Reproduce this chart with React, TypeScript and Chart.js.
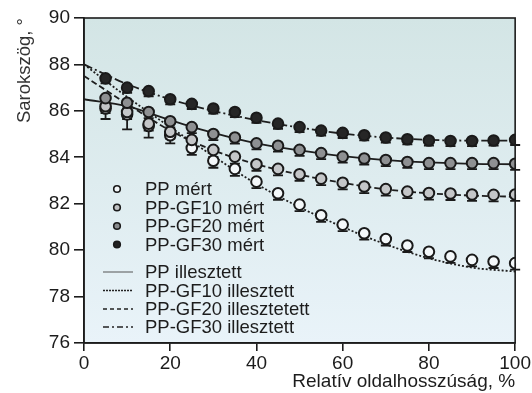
import { useEffect, useRef } from 'react';
import { Chart, registerables } from 'chart.js';

Chart.register(...registerables);

// Relative side length positions of the measurements (%)
const xMeasured = [5, 10, 15, 20, 25, 30, 35, 40, 45, 50, 55, 60, 65, 70, 75, 80, 85, 90, 95, 100];

// Measured corner angle (degrees)
const ppMeasured = [86.1, 85.85, 85.35, 84.95, 84.4, 83.85, 83.5, 82.95, 82.45, 81.96, 81.5, 81.1, 80.73, 80.48, 80.2, 79.93, 79.73, 79.58, 79.51, 79.44];
const gf10Measured = [86.2, 85.95, 85.45, 85.1, 84.75, 84.32, 84.03, 83.7, 83.5, 83.27, 83.08, 82.9, 82.74, 82.63, 82.52, 82.46, 82.44, 82.4, 82.38, 82.4];
const gf20Measured = [86.55, 86.35, 85.95, 85.55, 85.3, 85.0, 84.85, 84.6, 84.5, 84.32, 84.18, 84.03, 83.95, 83.88, 83.8, 83.75, 83.75, 83.75, 83.75, 83.72];
const gf30Measured = [87.4, 87.0, 86.85, 86.5, 86.3, 86.1, 85.95, 85.7, 85.45, 85.3, 85.15, 85.05, 84.95, 84.85, 84.78, 84.72, 84.7, 84.7, 84.72, 84.75];

// Lower deviation of the measurements (degrees)
const ppErrLow = [0.45, 0.65, 0.5, 0.35, 0.3, 0.3, 0.3, 0.28, 0.28, 0.28, 0.28, 0.28, 0.28, 0.28, 0.28, 0.28, 0.28, 0.28, 0.28, 0.28];
const gf10ErrLow = [0.3, 0.3, 0.3, 0.3, 0.3, 0.3, 0.3, 0.28, 0.28, 0.28, 0.28, 0.28, 0.28, 0.28, 0.28, 0.28, 0.28, 0.28, 0.28, 0.28];
const gf20ErrLow = [0.26, 0.26, 0.26, 0.26, 0.26, 0.26, 0.26, 0.26, 0.26, 0.26, 0.26, 0.26, 0.26, 0.26, 0.26, 0.26, 0.26, 0.26, 0.26, 0.26];
const gf30ErrLow = [0.22, 0.22, 0.22, 0.22, 0.22, 0.22, 0.22, 0.22, 0.22, 0.22, 0.22, 0.22, 0.22, 0.22, 0.22, 0.22, 0.22, 0.22, 0.22, 0.22];

// Fitted curves
const xFit = [0, 10, 20, 30, 40, 50, 60, 70, 80, 90, 100];
const ppFit = [88.0, 86.6, 85.3, 84.05, 82.85, 81.85, 81.0, 80.25, 79.65, 79.25, 79.08];
const gf10Fit = [87.5, 86.3, 85.15, 84.3, 83.7, 83.25, 82.9, 82.62, 82.45, 82.35, 82.3];
const gf20Fit = [86.5, 86.2, 85.6, 85.05, 84.6, 84.3, 84.05, 83.88, 83.78, 83.72, 83.7];
const gf30Fit = [88.0, 87.15, 86.5, 86.0, 85.6, 85.28, 85.02, 84.85, 84.75, 84.72, 84.72];

// Axis settings
const yMin = 76;
const yMax = 90;
const yStep = 2;
const xMin = 0;
const xMax = 100;
const xStep = 20;

const measuredLabels = ['PP mért', 'PP-GF10 mért', 'PP-GF20 mért', 'PP-GF30 mért'];
const fitLabels = ['PP illesztett', 'PP-GF10 illesztett', 'PP-GF20 illesztetett', 'PP-GF30 illesztett'];

const FONT = '"Liberation Sans", Arial, Helvetica, sans-serif';
const INK = '#1c1c1c';
const markerFills = ['#f4f8fa', '#c4c6c8', '#8e9092', '#262626'];
const legendMarkerFills = ['#f4f8fa', '#bfc1c3', '#8a8c8e', '#222222'];

const toPoints = (xs: number[], ys: number[]) => xs.map((x, i) => ({ x, y: ys[i] }));

const measuredSets = [ppMeasured, gf10Measured, gf20Measured, gf30Measured];
const errSets = [ppErrLow, gf10ErrLow, gf20ErrLow, gf30ErrLow];
const fitSets = [ppFit, gf10Fit, gf20Fit, gf30Fit];
const fitDashes = [[2, 2], [6, 3], [], [9, 3, 2, 3]];

// Background gradient and frame around the plot area
const plotFrame = {
  id: 'plotFrame',
  beforeDraw(chart: any) {
    const { ctx, chartArea: a } = chart;
    const g = ctx.createLinearGradient(0, a.top, 0, a.bottom);
    g.addColorStop(0, '#d3e5e5');
    g.addColorStop(1, '#e9f3f9');
    ctx.save();
    ctx.fillStyle = g;
    ctx.fillRect(a.left, a.top, a.right - a.left, a.bottom - a.top);
    ctx.restore();
  },
  afterDraw(chart: any) {
    const { ctx, chartArea: a } = chart;
    ctx.save();
    ctx.strokeStyle = INK;
    ctx.lineWidth = 1.6;
    ctx.strokeRect(a.left, a.top, a.right - a.left, a.bottom - a.top);
    ctx.restore();
  },
};

// Downward deviation bars under the measured markers
const errorBars = {
  id: 'errorBars',
  beforeDatasetsDraw(chart: any) {
    const { ctx, scales } = chart;
    const xs = scales.x;
    const ys = scales.y;
    ctx.save();
    ctx.strokeStyle = '#1a1a1a';
    ctx.lineWidth = 1.8;
    measuredSets.forEach((vals, s) => {
      vals.forEach((v, i) => {
        const px = xs.getPixelForValue(xMeasured[i]);
        const py = ys.getPixelForValue(v);
        const pl = ys.getPixelForValue(v - errSets[s][i]);
        ctx.beginPath();
        ctx.moveTo(px, py);
        ctx.lineTo(px, pl);
        ctx.moveTo(px - 5, pl);
        ctx.lineTo(px + 5, pl);
        ctx.stroke();
      });
    });
    ctx.restore();
  },
};

// Legend inside the plot
const legendBox = {
  id: 'legendBox',
  afterDraw(chart: any) {
    const { ctx } = chart;
    const markerX = 117;
    const textX = 145;
    const rowsMeasured = [189, 207.5, 226, 244.5];
    const rowsFit = [272, 290.5, 309, 327];
    const lineDashes = [[], [2, 1], [4, 3], [6, 3, 2, 3]];
    ctx.save();
    ctx.font = `18.5px ${FONT}`;
    ctx.textBaseline = 'middle';
    ctx.textAlign = 'left';
    measuredLabels.forEach((label, i) => {
      const y = rowsMeasured[i];
      ctx.beginPath();
      ctx.arc(markerX, y, 3.3, 0, Math.PI * 2);
      ctx.fillStyle = legendMarkerFills[i];
      ctx.fill();
      ctx.lineWidth = 1.6;
      ctx.strokeStyle = '#1a1a1a';
      ctx.stroke();
      ctx.fillStyle = INK;
      ctx.fillText(label, textX, y + 1);
    });
    fitLabels.forEach((label, i) => {
      const y = rowsFit[i];
      ctx.beginPath();
      ctx.setLineDash(lineDashes[i]);
      ctx.lineWidth = i === 0 ? 1 : 1.5;
      ctx.strokeStyle = i === 0 ? '#555' : '#222';
      ctx.moveTo(103, y);
      ctx.lineTo(133, y);
      ctx.stroke();
      ctx.setLineDash([]);
      ctx.fillStyle = INK;
      ctx.fillText(label, textX, y + 1);
    });
    ctx.restore();
  },
};

export default function App() {
  const canvasRef = useRef<HTMLCanvasElement | null>(null);

  useEffect(() => {
    if (!canvasRef.current) return;

    const measuredDatasets = measuredSets.map((vals, i) => ({
      label: measuredLabels[i],
      data: toPoints(xMeasured, vals),
      showLine: false,
      pointRadius: 5.3,
      pointBorderWidth: 2,
      pointBorderColor: '#1a1a1a',
      pointBackgroundColor: markerFills[i],
      borderColor: '#1a1a1a',
      backgroundColor: markerFills[i],
    }));

    const fitDatasets = fitSets.map((vals, i) => ({
      label: fitLabels[i],
      data: toPoints(xFit, vals),
      showLine: true,
      pointRadius: 0,
      borderWidth: 1.8,
      borderColor: '#1e1e1e',
      borderDash: fitDashes[i],
      cubicInterpolationMode: 'monotone' as const,
      fill: false,
    }));

    const chart = new Chart(canvasRef.current, {
      type: 'line',
      data: {
        datasets: [...measuredDatasets.reverse(), ...fitDatasets],
      },
      options: {
        animation: false,
        responsive: false,
        devicePixelRatio: 1,
        layout: { padding: { left: 0, right: 15, top: 18, bottom: 0 } },
        plugins: {
          legend: { display: false },
          tooltip: { enabled: false },
        },
        scales: {
          x: {
            type: 'linear',
            min: xMin,
            max: xMax,
            ticks: {
              stepSize: xStep,
              color: INK,
              font: { family: FONT, size: 19 },
              padding: 1,
              maxRotation: 0,
            },
            grid: {
              drawOnChartArea: false,
              drawTicks: true,
              tickLength: 8,
              color: INK,
              lineWidth: 1.6,
            },
            border: { display: true, color: INK, width: 1.6 },
            title: {
              display: true,
              text: 'Relatív oldalhosszúság, %',
              align: 'end',
              color: INK,
              font: { family: FONT, size: 19 },
              padding: { top: 0, bottom: 0 },
            },
            afterFit: (scale: any) => {
              scale.height = 50;
            },
          },
          y: {
            type: 'linear',
            min: yMin,
            max: yMax,
            ticks: {
              stepSize: yStep,
              color: INK,
              font: { family: FONT, size: 19 },
              padding: 4,
            },
            grid: {
              drawOnChartArea: false,
              drawTicks: true,
              tickLength: 10,
              color: INK,
              lineWidth: 1.6,
            },
            border: { display: true, color: INK, width: 1.6 },
            title: {
              display: true,
              text: 'Sarokszög, °',
              align: 'end',
              color: '#333',
              font: { family: FONT, size: 18.5 },
              padding: { top: 14, bottom: 0 },
            },
            afterFit: (scale: any) => {
              scale.width = 84;
            },
          },
        },
      },
      plugins: [plotFrame, errorBars, legendBox],
    });

    return () => chart.destroy();
  }, []);

  return (
    <div style={{ position: 'absolute', left: 0, top: 0, width: 532, height: 393, background: '#fff' }}>
      <canvas ref={canvasRef} width={532} height={393} style={{ width: 532, height: 393, display: 'block' }} />
    </div>
  );
}
